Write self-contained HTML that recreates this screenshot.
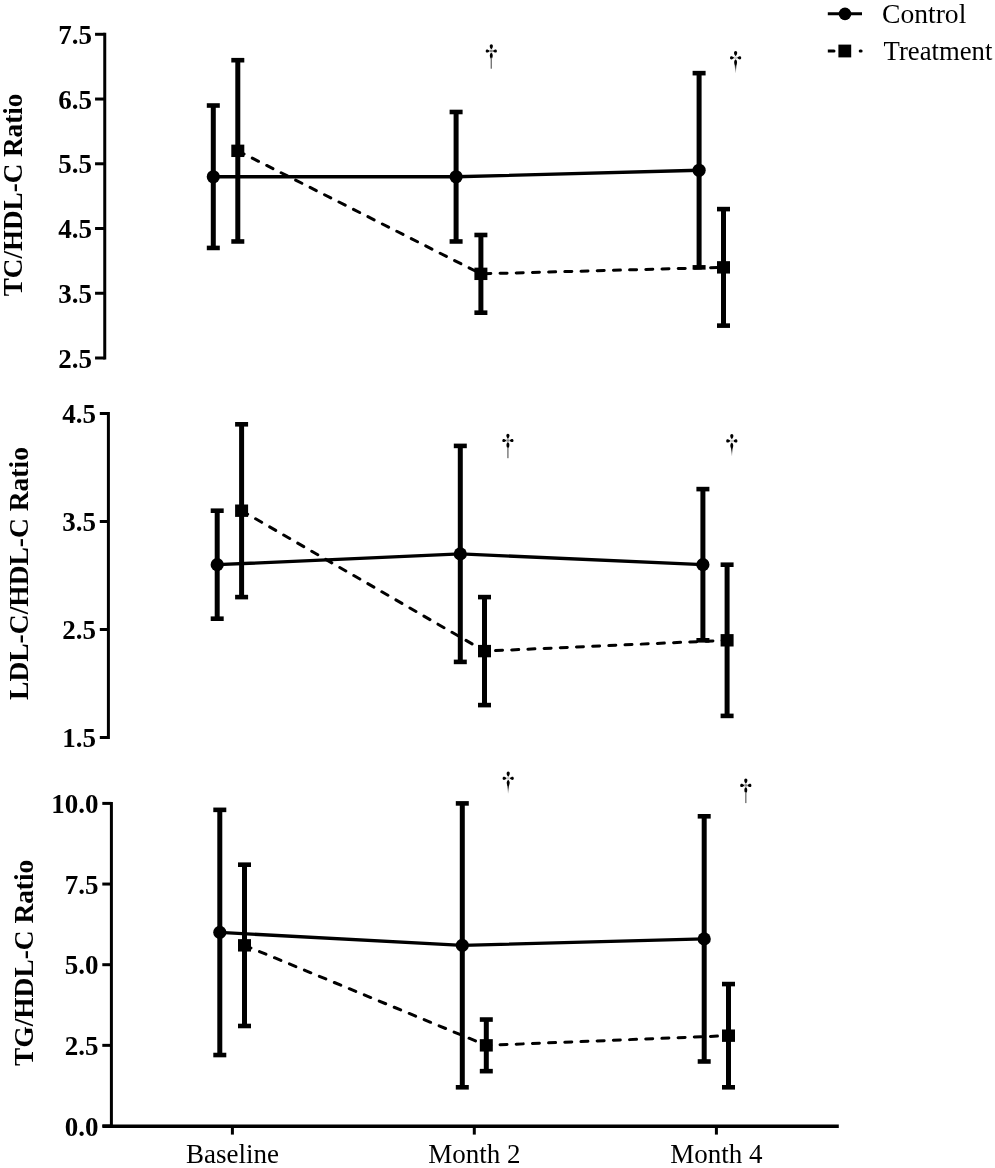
<!DOCTYPE html><html><head><meta charset="utf-8"><style>html,body{margin:0;padding:0;background:#fff;}svg{display:block;filter:grayscale(1);}</style></head><body>
<svg width="995" height="1168" viewBox="0 0 995 1168">
<rect width="995" height="1168" fill="#fff"/>
<g font-family="Liberation Serif, serif" fill="#000">
<line x1="104.75" y1="32.80" x2="104.75" y2="359.50" stroke="#000" stroke-width="3"/>
<line x1="95.05" y1="358.00" x2="104.75" y2="358.00" stroke="#000" stroke-width="3"/>
<text x="92.00" y="367.70" font-size="27" font-weight="bold" text-anchor="end">2.5</text>
<line x1="95.05" y1="293.26" x2="104.75" y2="293.26" stroke="#000" stroke-width="3"/>
<text x="92.00" y="302.96" font-size="27" font-weight="bold" text-anchor="end">3.5</text>
<line x1="95.05" y1="228.52" x2="104.75" y2="228.52" stroke="#000" stroke-width="3"/>
<text x="92.00" y="238.22" font-size="27" font-weight="bold" text-anchor="end">4.5</text>
<line x1="95.05" y1="163.78" x2="104.75" y2="163.78" stroke="#000" stroke-width="3"/>
<text x="92.00" y="173.48" font-size="27" font-weight="bold" text-anchor="end">5.5</text>
<line x1="95.05" y1="99.04" x2="104.75" y2="99.04" stroke="#000" stroke-width="3"/>
<text x="92.00" y="108.74" font-size="27" font-weight="bold" text-anchor="end">6.5</text>
<line x1="95.05" y1="34.30" x2="104.75" y2="34.30" stroke="#000" stroke-width="3"/>
<text x="92.00" y="44.00" font-size="27" font-weight="bold" text-anchor="end">7.5</text>
<text transform="translate(22.30,195.00) rotate(-90)" font-size="27.1" font-weight="bold" text-anchor="middle">TC/HDL-C Ratio</text>
<polyline points="213.30,176.73 456.10,176.73 699.10,170.25" fill="none" stroke="#000" stroke-width="3.3"/>
<polyline points="237.80,150.83 480.90,273.84 723.50,267.36" fill="none" stroke="#000" stroke-width="3" stroke-dasharray="7 9.2" stroke-linecap="round"/>
<line x1="213.3" y1="105.51" x2="213.3" y2="247.94" stroke="#000" stroke-width="5"/>
<line x1="206.80" y1="105.51" x2="219.80" y2="105.51" stroke="#000" stroke-width="4.6"/>
<line x1="206.80" y1="247.94" x2="219.80" y2="247.94" stroke="#000" stroke-width="4.6"/>
<line x1="456.1" y1="111.99" x2="456.1" y2="241.47" stroke="#000" stroke-width="5"/>
<line x1="449.60" y1="111.99" x2="462.60" y2="111.99" stroke="#000" stroke-width="4.6"/>
<line x1="449.60" y1="241.47" x2="462.60" y2="241.47" stroke="#000" stroke-width="4.6"/>
<line x1="699.1" y1="73.14" x2="699.1" y2="267.36" stroke="#000" stroke-width="5"/>
<line x1="692.60" y1="73.14" x2="705.60" y2="73.14" stroke="#000" stroke-width="4.6"/>
<line x1="692.60" y1="267.36" x2="705.60" y2="267.36" stroke="#000" stroke-width="4.6"/>
<line x1="237.8" y1="60.20" x2="237.8" y2="241.47" stroke="#000" stroke-width="5"/>
<line x1="231.30" y1="60.20" x2="244.30" y2="60.20" stroke="#000" stroke-width="4.6"/>
<line x1="231.30" y1="241.47" x2="244.30" y2="241.47" stroke="#000" stroke-width="4.6"/>
<line x1="480.9" y1="234.99" x2="480.9" y2="312.68" stroke="#000" stroke-width="5"/>
<line x1="474.40" y1="234.99" x2="487.40" y2="234.99" stroke="#000" stroke-width="4.6"/>
<line x1="474.40" y1="312.68" x2="487.40" y2="312.68" stroke="#000" stroke-width="4.6"/>
<line x1="723.5" y1="209.10" x2="723.5" y2="325.63" stroke="#000" stroke-width="5"/>
<line x1="717.00" y1="209.10" x2="730.00" y2="209.10" stroke="#000" stroke-width="4.6"/>
<line x1="717.00" y1="325.63" x2="730.00" y2="325.63" stroke="#000" stroke-width="4.6"/>
<circle cx="213.3" cy="176.73" r="6.6"/>
<circle cx="456.1" cy="176.73" r="6.6"/>
<circle cx="699.1" cy="170.25" r="6.6"/>
<rect x="231.30" y="144.63" width="13" height="12.4"/>
<rect x="474.40" y="267.64" width="13" height="12.4"/>
<rect x="717.00" y="261.16" width="13" height="12.4"/>
<line x1="108.4" y1="412.00" x2="108.4" y2="739.00" stroke="#000" stroke-width="3"/>
<line x1="99.80" y1="737.50" x2="108.4" y2="737.50" stroke="#000" stroke-width="3"/>
<text x="96.10" y="747.20" font-size="27" font-weight="bold" text-anchor="end">1.5</text>
<line x1="99.80" y1="629.50" x2="108.4" y2="629.50" stroke="#000" stroke-width="3"/>
<text x="96.10" y="639.20" font-size="27" font-weight="bold" text-anchor="end">2.5</text>
<line x1="99.80" y1="521.50" x2="108.4" y2="521.50" stroke="#000" stroke-width="3"/>
<text x="96.10" y="531.20" font-size="27" font-weight="bold" text-anchor="end">3.5</text>
<line x1="99.80" y1="413.50" x2="108.4" y2="413.50" stroke="#000" stroke-width="3"/>
<text x="96.10" y="423.20" font-size="27" font-weight="bold" text-anchor="end">4.5</text>
<text transform="translate(28.10,573.50) rotate(-90)" font-size="27.5" font-weight="bold" text-anchor="middle">LDL-C/HDL-C Ratio</text>
<polyline points="217.20,564.70 460.30,553.90 702.90,564.70" fill="none" stroke="#000" stroke-width="3.3"/>
<polyline points="241.60,510.70 484.50,651.10 727.10,640.30" fill="none" stroke="#000" stroke-width="3" stroke-dasharray="7 9.2" stroke-linecap="round"/>
<line x1="217.2" y1="510.70" x2="217.2" y2="618.70" stroke="#000" stroke-width="5"/>
<line x1="210.70" y1="510.70" x2="223.70" y2="510.70" stroke="#000" stroke-width="4.6"/>
<line x1="210.70" y1="618.70" x2="223.70" y2="618.70" stroke="#000" stroke-width="4.6"/>
<line x1="460.3" y1="445.90" x2="460.3" y2="661.90" stroke="#000" stroke-width="5"/>
<line x1="453.80" y1="445.90" x2="466.80" y2="445.90" stroke="#000" stroke-width="4.6"/>
<line x1="453.80" y1="661.90" x2="466.80" y2="661.90" stroke="#000" stroke-width="4.6"/>
<line x1="702.9" y1="489.10" x2="702.9" y2="640.30" stroke="#000" stroke-width="5"/>
<line x1="696.40" y1="489.10" x2="709.40" y2="489.10" stroke="#000" stroke-width="4.6"/>
<line x1="696.40" y1="640.30" x2="709.40" y2="640.30" stroke="#000" stroke-width="4.6"/>
<line x1="241.6" y1="424.30" x2="241.6" y2="597.10" stroke="#000" stroke-width="5"/>
<line x1="235.10" y1="424.30" x2="248.10" y2="424.30" stroke="#000" stroke-width="4.6"/>
<line x1="235.10" y1="597.10" x2="248.10" y2="597.10" stroke="#000" stroke-width="4.6"/>
<line x1="484.5" y1="597.10" x2="484.5" y2="705.10" stroke="#000" stroke-width="5"/>
<line x1="478.00" y1="597.10" x2="491.00" y2="597.10" stroke="#000" stroke-width="4.6"/>
<line x1="478.00" y1="705.10" x2="491.00" y2="705.10" stroke="#000" stroke-width="4.6"/>
<line x1="727.1" y1="564.70" x2="727.1" y2="715.90" stroke="#000" stroke-width="5"/>
<line x1="720.60" y1="564.70" x2="733.60" y2="564.70" stroke="#000" stroke-width="4.6"/>
<line x1="720.60" y1="715.90" x2="733.60" y2="715.90" stroke="#000" stroke-width="4.6"/>
<circle cx="217.2" cy="564.70" r="6.6"/>
<circle cx="460.3" cy="553.90" r="6.6"/>
<circle cx="702.9" cy="564.70" r="6.6"/>
<rect x="235.10" y="504.50" width="13" height="12.4"/>
<rect x="478.00" y="644.90" width="13" height="12.4"/>
<rect x="720.60" y="634.10" width="13" height="12.4"/>
<line x1="111.4" y1="801.90" x2="111.4" y2="1127.50" stroke="#000" stroke-width="3"/>
<line x1="102.30" y1="1126.00" x2="111.4" y2="1126.00" stroke="#000" stroke-width="3"/>
<text x="98.50" y="1135.70" font-size="27" font-weight="bold" text-anchor="end">0.0</text>
<line x1="102.30" y1="1045.35" x2="111.4" y2="1045.35" stroke="#000" stroke-width="3"/>
<text x="98.50" y="1055.05" font-size="27" font-weight="bold" text-anchor="end">2.5</text>
<line x1="102.30" y1="964.70" x2="111.4" y2="964.70" stroke="#000" stroke-width="3"/>
<text x="98.50" y="974.40" font-size="27" font-weight="bold" text-anchor="end">5.0</text>
<line x1="102.30" y1="884.05" x2="111.4" y2="884.05" stroke="#000" stroke-width="3"/>
<text x="98.50" y="893.75" font-size="27" font-weight="bold" text-anchor="end">7.5</text>
<line x1="102.30" y1="803.40" x2="111.4" y2="803.40" stroke="#000" stroke-width="3"/>
<text x="98.50" y="813.10" font-size="27" font-weight="bold" text-anchor="end">10.0</text>
<text transform="translate(33.00,962.80) rotate(-90)" font-size="27.4" font-weight="bold" text-anchor="middle">TG/HDL-C Ratio</text>
<polyline points="219.80,932.44 462.30,945.34 704.20,938.89" fill="none" stroke="#000" stroke-width="3.3"/>
<polyline points="244.50,945.34 486.30,1045.35 728.50,1035.67" fill="none" stroke="#000" stroke-width="3" stroke-dasharray="7 9.2" stroke-linecap="round"/>
<line x1="219.8" y1="809.85" x2="219.8" y2="1055.03" stroke="#000" stroke-width="5"/>
<line x1="213.30" y1="809.85" x2="226.30" y2="809.85" stroke="#000" stroke-width="4.6"/>
<line x1="213.30" y1="1055.03" x2="226.30" y2="1055.03" stroke="#000" stroke-width="4.6"/>
<line x1="462.3" y1="803.40" x2="462.3" y2="1087.29" stroke="#000" stroke-width="5"/>
<line x1="455.80" y1="803.40" x2="468.80" y2="803.40" stroke="#000" stroke-width="4.6"/>
<line x1="455.80" y1="1087.29" x2="468.80" y2="1087.29" stroke="#000" stroke-width="4.6"/>
<line x1="704.2" y1="816.30" x2="704.2" y2="1061.48" stroke="#000" stroke-width="5"/>
<line x1="697.70" y1="816.30" x2="710.70" y2="816.30" stroke="#000" stroke-width="4.6"/>
<line x1="697.70" y1="1061.48" x2="710.70" y2="1061.48" stroke="#000" stroke-width="4.6"/>
<line x1="244.5" y1="864.69" x2="244.5" y2="1025.99" stroke="#000" stroke-width="5"/>
<line x1="238.00" y1="864.69" x2="251.00" y2="864.69" stroke="#000" stroke-width="4.6"/>
<line x1="238.00" y1="1025.99" x2="251.00" y2="1025.99" stroke="#000" stroke-width="4.6"/>
<line x1="486.3" y1="1019.54" x2="486.3" y2="1071.16" stroke="#000" stroke-width="5"/>
<line x1="479.80" y1="1019.54" x2="492.80" y2="1019.54" stroke="#000" stroke-width="4.6"/>
<line x1="479.80" y1="1071.16" x2="492.80" y2="1071.16" stroke="#000" stroke-width="4.6"/>
<line x1="728.5" y1="984.06" x2="728.5" y2="1087.29" stroke="#000" stroke-width="5"/>
<line x1="722.00" y1="984.06" x2="735.00" y2="984.06" stroke="#000" stroke-width="4.6"/>
<line x1="722.00" y1="1087.29" x2="735.00" y2="1087.29" stroke="#000" stroke-width="4.6"/>
<circle cx="219.8" cy="932.44" r="6.6"/>
<circle cx="462.3" cy="945.34" r="6.6"/>
<circle cx="704.2" cy="938.89" r="6.6"/>
<rect x="238.00" y="939.14" width="13" height="12.4"/>
<rect x="479.80" y="1039.15" width="13" height="12.4"/>
<rect x="722.00" y="1029.47" width="13" height="12.4"/>
<line x1="102.5" y1="1126.2" x2="838.8" y2="1126.2" stroke="#000" stroke-width="3.6"/>
<line x1="232.4" y1="1126" x2="232.4" y2="1134.6" stroke="#000" stroke-width="3"/>
<text x="232.4" y="1162.7" font-size="27" text-anchor="middle">Baseline</text>
<line x1="474.3" y1="1126" x2="474.3" y2="1134.6" stroke="#000" stroke-width="3"/>
<text x="474.3" y="1162.7" font-size="27" text-anchor="middle">Month 2</text>
<line x1="716.4" y1="1126" x2="716.4" y2="1134.6" stroke="#000" stroke-width="3"/>
<text x="716.4" y="1162.7" font-size="27" text-anchor="middle">Month 4</text>
<defs><linearGradient id="fade" x1="0" y1="0" x2="0" y2="1"><stop offset="0" stop-color="#000"/><stop offset="1" stop-color="#000" stop-opacity="0.1"/></linearGradient></defs>
<g transform="translate(491.3,44.2)">
<path d="M0,5.2 C-2.3,3 -1.9,0 0,0 C1.9,0 2.3,3 0,5.2 Z"/>
<path d="M-1.5,6.8 C-3.6,4.5 -5.6,4.9 -5.6,6.8 C-5.6,8.7 -3.6,9.1 -1.5,6.8 Z"/>
<path d="M1.5,6.8 C3.6,4.5 5.6,4.9 5.6,6.8 C5.6,8.7 3.6,9.1 1.5,6.8 Z"/>
<path d="M0,8.3 C2,9.8 1.7,12.3 0.7,14.2 L-0.7,14.2 C-1.7,12.3 -2,9.8 0,8.3 Z"/>
<rect x="-1.5" y="5.6" width="3" height="2.4" fill="#888"/>
<rect x="-0.7" y="13.5" width="1.4" height="11" fill="#777"/>
</g>
<g transform="translate(735.6,51)">
<path d="M0,5.2 C-2.3,3 -1.9,0 0,0 C1.9,0 2.3,3 0,5.2 Z"/>
<path d="M-1.5,6.8 C-3.6,4.5 -5.6,4.9 -5.6,6.8 C-5.6,8.7 -3.6,9.1 -1.5,6.8 Z"/>
<path d="M1.5,6.8 C3.6,4.5 5.6,4.9 5.6,6.8 C5.6,8.7 3.6,9.1 1.5,6.8 Z"/>
<path d="M0,8.3 C2,9.8 1.7,12.3 0.7,14.2 L-0.7,14.2 C-1.7,12.3 -2,9.8 0,8.3 Z"/>
<rect x="-1.5" y="5.6" width="3" height="2.4" fill="#ccc"/>
<path d="M-0.9,13.5 L0.9,13.5 L0.25,22 L-0.25,22 Z" fill="url(#fade)"/>
</g>
<g transform="translate(507.9,433.7)">
<path d="M0,5.2 C-2.3,3 -1.9,0 0,0 C1.9,0 2.3,3 0,5.2 Z"/>
<path d="M-1.5,6.8 C-3.6,4.5 -5.6,4.9 -5.6,6.8 C-5.6,8.7 -3.6,9.1 -1.5,6.8 Z"/>
<path d="M1.5,6.8 C3.6,4.5 5.6,4.9 5.6,6.8 C5.6,8.7 3.6,9.1 1.5,6.8 Z"/>
<path d="M0,8.3 C2,9.8 1.7,12.3 0.7,14.2 L-0.7,14.2 C-1.7,12.3 -2,9.8 0,8.3 Z"/>
<rect x="-1.5" y="5.6" width="3" height="2.4" fill="#888"/>
<rect x="-0.7" y="13.5" width="1.4" height="11" fill="#777"/>
</g>
<g transform="translate(731.8,434.1)">
<path d="M0,5.2 C-2.3,3 -1.9,0 0,0 C1.9,0 2.3,3 0,5.2 Z"/>
<path d="M-1.5,6.8 C-3.6,4.5 -5.6,4.9 -5.6,6.8 C-5.6,8.7 -3.6,9.1 -1.5,6.8 Z"/>
<path d="M1.5,6.8 C3.6,4.5 5.6,4.9 5.6,6.8 C5.6,8.7 3.6,9.1 1.5,6.8 Z"/>
<path d="M0,8.3 C2,9.8 1.7,12.3 0.7,14.2 L-0.7,14.2 C-1.7,12.3 -2,9.8 0,8.3 Z"/>
<rect x="-1.5" y="5.6" width="3" height="2.4" fill="#ccc"/>
<path d="M-0.9,13.5 L0.9,13.5 L0.25,22 L-0.25,22 Z" fill="url(#fade)"/>
</g>
<g transform="translate(508.2,771.5)">
<path d="M0,5.2 C-2.3,3 -1.9,0 0,0 C1.9,0 2.3,3 0,5.2 Z"/>
<path d="M-1.5,6.8 C-3.6,4.5 -5.6,4.9 -5.6,6.8 C-5.6,8.7 -3.6,9.1 -1.5,6.8 Z"/>
<path d="M1.5,6.8 C3.6,4.5 5.6,4.9 5.6,6.8 C5.6,8.7 3.6,9.1 1.5,6.8 Z"/>
<path d="M0,8.3 C2,9.8 1.7,12.3 0.7,14.2 L-0.7,14.2 C-1.7,12.3 -2,9.8 0,8.3 Z"/>
<rect x="-1.5" y="5.6" width="3" height="2.4" fill="#ccc"/>
<path d="M-0.9,13.5 L0.9,13.5 L0.25,22 L-0.25,22 Z" fill="url(#fade)"/>
</g>
<g transform="translate(745.8,778.6)">
<path d="M0,5.2 C-2.3,3 -1.9,0 0,0 C1.9,0 2.3,3 0,5.2 Z"/>
<path d="M-1.5,6.8 C-3.6,4.5 -5.6,4.9 -5.6,6.8 C-5.6,8.7 -3.6,9.1 -1.5,6.8 Z"/>
<path d="M1.5,6.8 C3.6,4.5 5.6,4.9 5.6,6.8 C5.6,8.7 3.6,9.1 1.5,6.8 Z"/>
<path d="M0,8.3 C2,9.8 1.7,12.3 0.7,14.2 L-0.7,14.2 C-1.7,12.3 -2,9.8 0,8.3 Z"/>
<rect x="-1.5" y="5.6" width="3" height="2.4" fill="#888"/>
<rect x="-0.7" y="13.5" width="1.4" height="11" fill="#777"/>
</g>
<line x1="827.8" y1="13.8" x2="862" y2="13.8" stroke="#000" stroke-width="3.1"/>
<circle cx="845" cy="13.9" r="6.3"/>
<text x="882.0" y="23" font-size="27.6">Control</text>
<path d="M827.8,49.6 H834 A1.5,1.5 0 0 1 834,52.6 H827.8 Z"/>
<rect x="838.4" y="44.6" width="12.8" height="12.8"/>
<line x1="860.2" y1="51.1" x2="861.1" y2="51.1" stroke="#000" stroke-width="3" stroke-linecap="round"/>
<text x="883.6" y="59.7" font-size="26.7">Treatment</text>
</g></svg></body></html>
